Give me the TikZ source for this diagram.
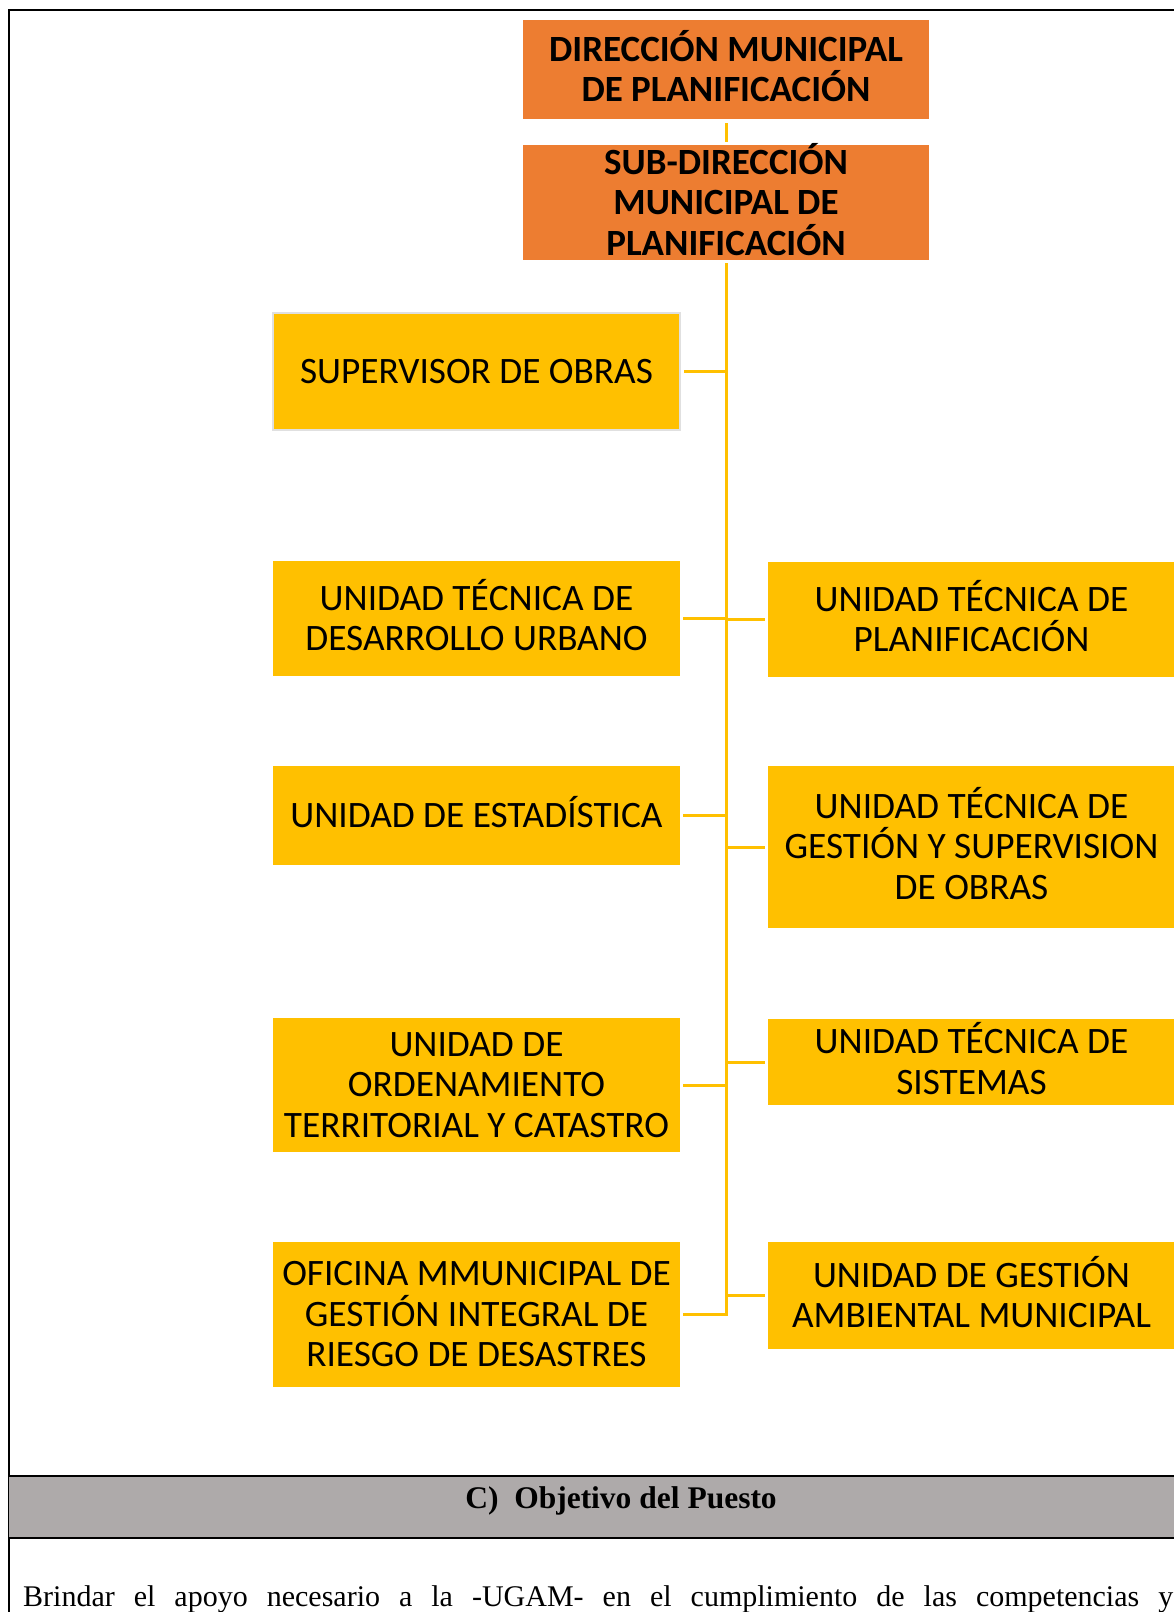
\documentclass[tikz,border=0pt]{standalone}
\usepackage{fontspec}
\setmainfont{Liberation Serif}
\newfontfamily\calibri{Carlito}
\usetikzlibrary{positioning}
\definecolor{orgorange}{HTML}{ED7D31}
\definecolor{unityellow}{HTML}{FFC000}
\definecolor{bandgray}{HTML}{AEAAAA}
\definecolor{supborder}{HTML}{E0E0E0}
\tikzset{
  orgbox/.style  = {fill=orgorange, minimum width=406pt, inner sep=0pt, align=center,
                    font=\calibri\bfseries\fontsize{37}{40.5}\selectfont},
  unitbox/.style = {fill=unityellow, minimum width=407pt, inner sep=0pt, align=center,
                    font=\calibri\fontsize{37.3}{40.5}\selectfont},
  link/.style    = {draw=unityellow, line width=3pt},
  rule/.style    = {draw=black, line width=1.6pt},
}

\begin{document}
\begin{tikzpicture}[x=1pt,y=-1pt]
  \useasboundingbox (0,0) rectangle (1174,1612);
  % frame of the page table
  \draw[line width=2.5pt] (9,1612) -- (9,10) -- (1176,10);
  \fill[bandgray] (9,1476) rectangle (1176,1538);
  \draw[rule] (9,1476) -- (1176,1476);
  \draw[rule] (9,1538) -- (1176,1538);
  % head of the chart
  \node[orgbox,minimum height=99pt] (dir) at (726,69.5) {DIRECCI\smash{Ó}N MUNICIPAL\\DE PLANIFICACIÓN};
  \node[orgbox,minimum height=115pt] (sub) at (726,202.5) {SUB-DIRECCI\smash{Ó}N\\MUNICIPAL DE\\PLANIFICACIÓN};
  % left column
  \node[unitbox,minimum height=117pt,draw=supborder,line width=2pt] (sup) at (476.5,371.5) {SUPERVISOR DE OBRAS};
  \node[unitbox,minimum height=115pt] (du) at (476.5,618.5) {UNIDAD T\smash{É}CNICA DE\\DESARROLLO URBANO};
  \node[unitbox,minimum height=99pt] (est) at (476.5,815.5) {UNIDAD DE ESTAD\smash{Í}STICA};
  \node[unitbox,minimum height=134pt] (ot) at (476.5,1085) {UNIDAD DE\\ORDENAMIENTO\\TERRITORIAL Y CATASTRO};
  \node[unitbox,minimum height=145pt] (gr) at (476.5,1314.5) {OFICINA MMUNICIPAL DE\\GESTIÓN INTEGRAL DE\\RIESGO DE DESASTRES};
  % right column
  \node[unitbox,minimum height=115pt] (plan) at (971.5,619.5) {UNIDAD T\smash{É}CNICA DE\\PLANIFICACIÓN};
  \node[unitbox,minimum height=162pt] (gso) at (971.5,847) {UNIDAD T\smash{É}CNICA DE\\GESTIÓN Y SUPERVISION\\DE OBRAS};
  \node[unitbox,minimum height=86pt] (sis) at (971.5,1062) {UNIDAD T\smash{É}CNICA DE\\SISTEMAS};
  \node[unitbox,minimum height=107pt] (ga) at (971.5,1295.5) {UNIDAD DE GESTI\smash{Ó}N\\AMBIENTAL MUNICIPAL};
  % connectors
  \draw[link,shorten <=4pt,shorten >=3pt] (dir.south) -- (sub.north);
  \draw[link,shorten <=3pt,shorten >=3pt] (sub.south) |- (gr.east);
  \foreach \n in {sup,du,est,ot}
    \draw[link,shorten <=3pt] (\n.east) -- (\n.east -| sub.south);
  \foreach \n in {plan,gso,sis,ga}
    \draw[link,shorten <=3pt] (\n.west) -- (\n.west -| sub.south);
  % section title and text
  \node[anchor=base,font=\bfseries\fontsize{31.5}{36}\selectfont,inner sep=0pt] (obj) at (621,1508) {C)\enspace Objetivo del Puesto};
  \node[anchor=base west,inner sep=0pt,font=\fontsize{30}{36}\selectfont] (brindar) at (23,1606)
    {\makebox[1150pt][s]{Brindar el apoyo necesario a la -UGAM- en el cumplimiento de las competencias y}};
\end{tikzpicture}
\end{document}
